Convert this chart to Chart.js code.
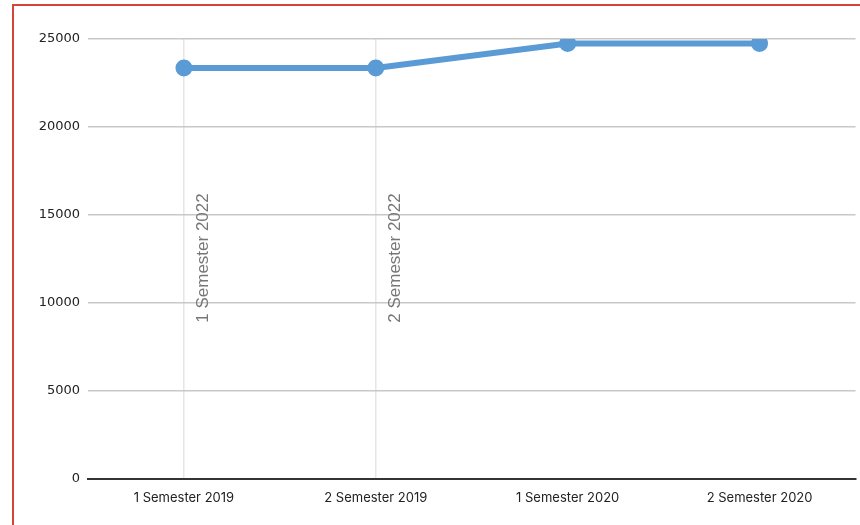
<!DOCTYPE html>
<html>
<head>
<meta charset="utf-8">
<script src="https://cdn.jsdelivr.net/npm/chart.js@4.4.0/dist/chart.umd.min.js"></script>
<style>
  html, body { margin: 0; padding: 0; background: #fff; overflow: hidden; }
  .wrap { position: relative; width: 860px; height: 525px; overflow: hidden; }
  .frame {
    position: absolute; left: 12px; top: 4px; right: -4px; bottom: -4px;
    border-left: 2px solid #d9413b; border-top: 2px solid #d9413b;
    pointer-events: none;
  }
</style>
</head>
<body>
<div class="wrap">
  <canvas id="myChart" width="867" height="525"></canvas>
  <div class="frame"></div>
</div>
<script>
const categories = ["1 Semester 2019", "2 Semester 2019", "1 Semester 2020", "2 Semester 2020"];
const values = [23350, 23350, 24750, 24750];
const yTicks = [0, 5000, 10000, 15000, 20000, 25000];
// vertical marker lines with rotated labels, placed on category index
const markerIndex = [0, 1];
const markerLabels = ["1 Semester 2022", "2 Semester 2022"];

const markerText = {
  id: "markerText",
  afterDatasetsDraw(chart) {
    const c = chart.ctx;
    const x = chart.scales.x;
    const area = chart.chartArea;
    c.save();
    c.fillStyle = "#777";
    c.font = "17px 'Liberation Sans'";
    c.textAlign = "center";
    c.textBaseline = "middle";
    markerIndex.forEach((idx, i) => {
      const px = x.getPixelForValue(idx) + 19;
      c.save();
      c.translate(px, area.top + 219);
      c.rotate(-Math.PI / 2);
      c.fillText(markerLabels[i], 0, 0);
      c.restore();
    });
    c.restore();
  }
};

const ctx = document.getElementById("myChart").getContext("2d");
new Chart(ctx, {
  type: "line",
  data: {
    labels: categories,
    datasets: [
      {
        label: "Value",
        data: values,
        borderColor: "#5b9bd5",
        backgroundColor: "#5b9bd5",
        borderWidth: 6,
        pointRadius: 5.5,
        pointHoverRadius: 5.5,
        tension: 0,
      },
    ],
  },
  options: {
    responsive: false,
    animation: false,
    layout: { padding: { top: 39, right: 0, left: 0, bottom: 0 } },
    plugins: { legend: { display: false }, tooltip: { enabled: false } },
    scales: {
      x: {
        offset: true,
        grid: {
          offset: false,
          drawTicks: false,
          lineWidth: 1.5,
          color: (c) => (markerIndex.includes(c.index) ? "#e6e6e6" : "rgba(0,0,0,0)"),
        },
        border: { color: "#333", width: 2 },
        ticks: {
          padding: 11,
          color: "#222",
          font: { family: "Inter", size: 13 },
          maxRotation: 0,
        },
        afterFit(scale) {
          scale.height = 46;
          scale.paddingLeft = 0;
          scale.paddingRight = 0;
        },
      },
      y: {
        min: 0,
        max: 25000,
        afterBuildTicks(scale) { scale.ticks = yTicks.map((v) => ({ value: v })); },
        grid: { drawTicks: false, color: "#c8c8c8", lineWidth: 1.5 },
        border: { display: false },
        ticks: {
          padding: 8,
          color: "#222",
          font: { family: "DejaVu Sans", size: 13 },
          callback: (v) => String(v),
        },
        afterFit(scale) { scale.width = 88; },
      },
    },
  },
  plugins: [markerText],
});
</script>
</body>
</html>
